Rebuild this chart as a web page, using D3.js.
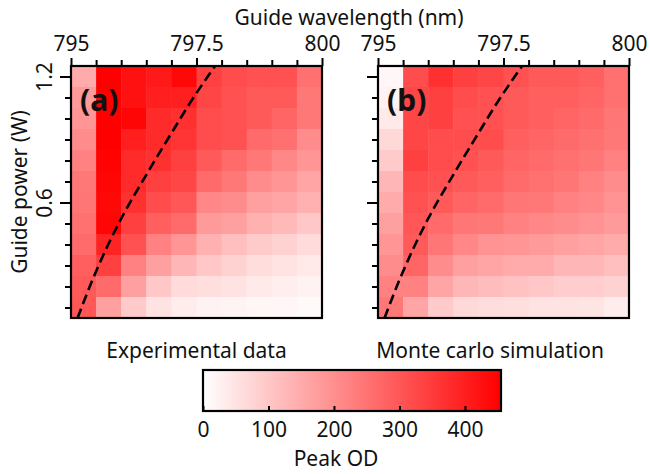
<!DOCTYPE html>
<html>
<head>
<meta charset="utf-8">
<script src="https://cdn.jsdelivr.net/npm/d3@7"></script>
<style>
  body { margin: 0; background: #fff; }
  svg text { font-family: "Noto Sans", "Open Sans", sans-serif; fill: #111; }
</style>
</head>
<body>
<svg id="chart" width="650" height="474"></svg>
<script>
// wavelength bins (left edges, nm) and power rows (centres, W), top row first
const wavelengths = [795, 795.5, 796, 796.5, 797, 797.5, 798, 798.5, 799, 799.5];
const powers = [1.2, 1.1, 1.0, 0.9, 0.8, 0.7, 0.6, 0.5, 0.4, 0.3, 0.2, 0.1];
const xTickLabels = [795, 797.5, 800];
const yTickLabels = [1.2, 0.6];
const odTicks = [0, 100, 200, 300, 400];

// peak OD, rows follow `powers`, columns follow `wavelengths`
const experimental = [
  [150, 455, 425, 410, 440, 340, 320, 310, 310, 255],
  [180, 455, 425, 400, 400, 330, 310, 295, 295, 240],
  [190, 455, 445, 380, 370, 320, 310, 295, 275, 240],
  [205, 455, 400, 380, 360, 320, 310, 265, 255, 205],
  [225, 450, 380, 370, 340, 295, 265, 240, 215, 190],
  [240, 445, 380, 340, 330, 265, 240, 205, 190, 160],
  [245, 440, 370, 320, 300, 215, 205, 170, 160, 140],
  [255, 445, 340, 285, 265, 180, 170, 140, 125, 100],
  [265, 390, 310, 225, 190, 140, 115, 95, 80, 65],
  [285, 340, 225, 170, 130, 100, 80, 60, 50, 40],
  [295, 265, 170, 100, 65, 58, 50, 37, 30, 23],
  [300, 170, 95, 50, 33, 23, 19, 16, 14, 9]
];
const simulation = [
  [14, 320, 370, 340, 330, 310, 295, 295, 285, 255],
  [23, 330, 340, 320, 310, 295, 285, 285, 275, 255],
  [40, 330, 340, 310, 310, 295, 285, 275, 265, 245],
  [70, 330, 320, 320, 320, 285, 275, 265, 255, 240],
  [95, 340, 320, 310, 295, 275, 265, 255, 245, 225],
  [130, 320, 310, 295, 285, 265, 255, 245, 225, 205],
  [150, 310, 295, 275, 265, 245, 240, 225, 215, 195],
  [170, 300, 265, 245, 240, 225, 215, 205, 195, 180],
  [190, 295, 245, 215, 195, 190, 180, 170, 160, 150],
  [205, 275, 205, 170, 160, 150, 150, 130, 130, 115],
  [225, 225, 160, 130, 120, 110, 100, 90, 90, 80],
  [240, 160, 95, 70, 60, 58, 50, 50, 48, 33]
];
// dashed guide curve: [wavelength nm, power W]
const guideCurve = [
  [795.13, 0.05], [795.55, 0.30], [795.97, 0.51], [796.57, 0.76],
  [797.0, 0.93], [797.44, 1.10], [797.87, 1.25]
];

const svg = d3.select('#chart');
const plotW = 251, plotH = 252, plotTop = 66;
const color = d3.scaleLinear().domain([0, 455]).range(['#ffffff', '#ff0000']);

const panels = [
  {left: 71, tag: '(a)', caption: 'Experimental data', capX: 125.5, data: experimental, labels: true},
  {left: 378, tag: '(b)', caption: 'Monte carlo simulation', capX: 112, data: simulation, labels: false}
];

const x = d3.scaleLinear().domain([795, 800]).range([0, plotW]);
const y = d3.scaleLinear().domain([0.05, 1.25]).range([plotH, 0]);

panels.forEach(p => {
  const g = svg.append('g').attr('transform', `translate(${p.left},${plotTop})`);

  p.data.forEach((row, i) => {
    row.forEach((v, j) => {
      g.append('rect')
        .attr('x', x(wavelengths[j]))
        .attr('y', y(powers[i] + 0.05))
        .attr('width', x(wavelengths[j] + 0.5) - x(wavelengths[j]) + 0.5)
        .attr('height', y(powers[i] - 0.05) - y(powers[i] + 0.05) + 0.5)
        .attr('fill', color(v));
    });
  });

  g.append('path')
    .datum(guideCurve)
    .attr('d', d3.line().x(d => x(d[0])).y(d => y(d[1])).curve(d3.curveMonotoneY))
    .attr('fill', 'none')
    .attr('stroke', '#000')
    .attr('stroke-width', 2.6)
    .attr('stroke-dasharray', '10,5');

  g.append('rect')
    .attr('width', plotW).attr('height', plotH)
    .attr('fill', 'none').attr('stroke', '#000').attr('stroke-width', 2.2);

  // top axis
  const xt = g.append('g').call(d3.axisTop(x)
    .tickValues(d3.range(795, 800.01, 0.5))
    .tickSize(6)
    .tickFormat(d => xTickLabels.includes(d) ? d : ''));
  xt.select('.domain').remove();
  xt.selectAll('line').attr('stroke-width', 2)
    .attr('y2', d => xTickLabels.includes(d) ? -8 : -6);
  xt.selectAll('text').attr('font-size', 21).attr('y', -15);

  // left axis
  const yt = g.append('g').call(d3.axisLeft(y)
    .tickValues(powers)
    .tickSize(6)
    .tickFormat(d => yTickLabels.includes(d) ? d.toFixed(1) : ''));
  yt.select('.domain').remove();
  yt.selectAll('line').attr('stroke-width', 2)
    .attr('x2', d => yTickLabels.includes(d) ? -11 : -6);
  if (p.labels) {
    yt.selectAll('text')
      .attr('font-size', 21)
      .attr('x', 0).attr('y', 0).attr('dy', 0)
      .attr('text-anchor', 'middle')
      .attr('transform', 'translate(-19,0) rotate(-90)');
  } else {
    yt.selectAll('text').remove();
  }

  g.append('text')
    .attr('x', 9).attr('y', 45)
    .attr('font-size', 30).attr('font-weight', 'bold')
    .text(p.tag);

  g.append('text')
    .attr('x', p.capX).attr('y', plotH + 40)
    .attr('text-anchor', 'middle').attr('font-size', 21)
    .text(p.caption);
});

svg.append('text')
  .attr('x', 349).attr('y', 25)
  .attr('text-anchor', 'middle').attr('font-size', 21)
  .text('Guide wavelength (nm)');

svg.append('text')
  .attr('transform', 'translate(27,192) rotate(-90)')
  .attr('text-anchor', 'middle').attr('font-size', 21)
  .text('Guide power (W)');

// colour bar
const cb = {left: 203, top: 370, w: 298, h: 41};
const cx = d3.scaleLinear().domain([0, 455]).range([0, cb.w]);
const defs = svg.append('defs');
const grad = defs.append('linearGradient').attr('id', 'odgrad');
grad.append('stop').attr('offset', '0%').attr('stop-color', color(0));
grad.append('stop').attr('offset', '100%').attr('stop-color', color(455));

const cg = svg.append('g').attr('transform', `translate(${cb.left},${cb.top})`);
cg.append('rect').attr('width', cb.w).attr('height', cb.h)
  .attr('fill', 'url(#odgrad)').attr('stroke', '#000').attr('stroke-width', 2.2);
const ca = cg.append('g').attr('transform', `translate(0,${cb.h})`)
  .call(d3.axisBottom(cx).tickValues(odTicks).tickSize(-5));
ca.select('.domain').remove();
ca.selectAll('line').attr('stroke-width', 2);
ca.selectAll('text').attr('font-size', 21).attr('y', 11).attr('dy', '0.71em');

svg.append('text')
  .attr('x', 336).attr('y', 466)
  .attr('text-anchor', 'middle').attr('font-size', 21)
  .text('Peak OD');
</script>
</body>
</html>
